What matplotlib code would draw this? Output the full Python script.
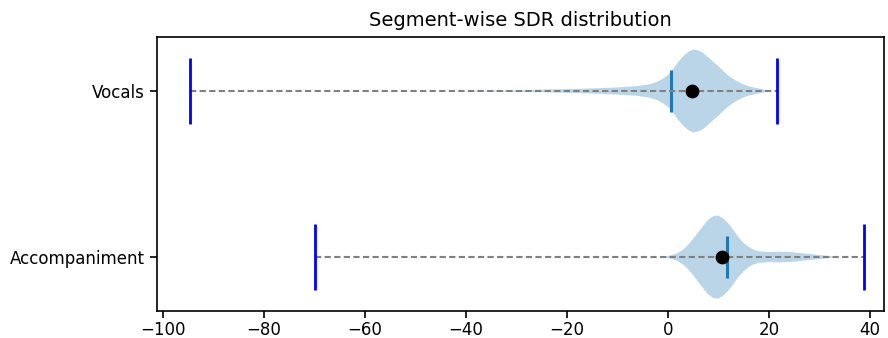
import numpy as np
import matplotlib
matplotlib.use("Agg")
import matplotlib.pyplot as plt

# Sources and their summary statistics (SDR in dB)
sources = ["Vocals", "Accompaniment"]
positions = [2, 1]
sdr_min = [-94.6, -70.0]
sdr_max = [21.6, 38.9]
sdr_median = [0.6, 11.7]
sdr_mean = [4.7, 10.7]

# Kernel-density profiles (grid of SDR values and relative density)
vocals_grid = [-40, -30, -20, -14, -10, -6, -4, -3, -2, -1, 0, 1, 2, 3, 4, 5,
               6, 7, 8, 9, 10, 11, 12, 13, 14, 15, 16, 17.5, 19, 20]
vocals_density = [0.3, 0.8, 1.8, 2.8, 3.6, 5, 6.5, 7.8, 9.5, 12.5, 16, 22,
                  29, 35, 39.5, 42, 41, 38.5, 34, 29.5, 25, 20, 15.5, 12, 9,
                  6.5, 4.8, 3, 1.5, 0]
accomp_grid = [-1, 0, 1, 2, 3, 4, 5, 6, 7, 8, 9, 10, 11, 12, 13, 14, 15, 16,
               17, 18, 20, 22, 24, 26, 28, 30, 32, 33.5]
accomp_density = [0.5, 1, 2.2, 4, 7.5, 12, 18, 24.5, 31, 37, 40.5, 41, 38,
                  33, 26.5, 19.5, 14, 10, 7.2, 5.7, 5, 5.3, 5, 4, 3, 2, 1, 0]

grids = [vocals_grid, accomp_grid]
densities = [vocals_density, accomp_density]

vpstats = []
for g, d, lo, hi, med, mu in zip(grids, densities, sdr_min, sdr_max,
                                 sdr_median, sdr_mean):
    vpstats.append(dict(coords=np.asarray(g, float), vals=np.asarray(d, float),
                        min=lo, max=hi, median=med, mean=mu))

fig = plt.figure(figsize=(8.88, 3.38), dpi=100)
ax = fig.add_axes([157 / 888, 1 - 311 / 338, (884 - 157) / 888, (311 - 37) / 338])

parts = ax.violin(vpstats, positions=positions, orientation="horizontal",
                  widths=0.5, showmeans=False, showextrema=False,
                  showmedians=True)
parts["cmedians"].set_linewidth(2.2)

# Whisker line spanning the full range, with end caps
ax.hlines(positions, sdr_min, sdr_max, colors="gray",
          linestyles=(0, (3, 1.6)), lw=1.5)
for p, lo, hi in zip(positions, sdr_min, sdr_max):
    ax.vlines([lo, hi], p - 0.2, p + 0.2, colors="b", lw=2)

# Means
ax.scatter(sdr_mean, positions, s=80, color="black", zorder=3)

ax.set_yticks(positions)
ax.set_yticklabels(sources)
ax.set_xticks(np.arange(-100, 41, 20))
ax.set_xlim(-101.2, 42.8)
ax.set_ylim(0.675, 2.325)
ax.tick_params(labelsize=12, length=5, width=1.2)
ax.tick_params(axis="x", pad=2)
for s in ax.spines.values():
    s.set_linewidth(1.2)
ax.set_title("Segment-wise SDR distribution", fontsize=14, pad=8)

fig.savefig("out.png", dpi=100)
